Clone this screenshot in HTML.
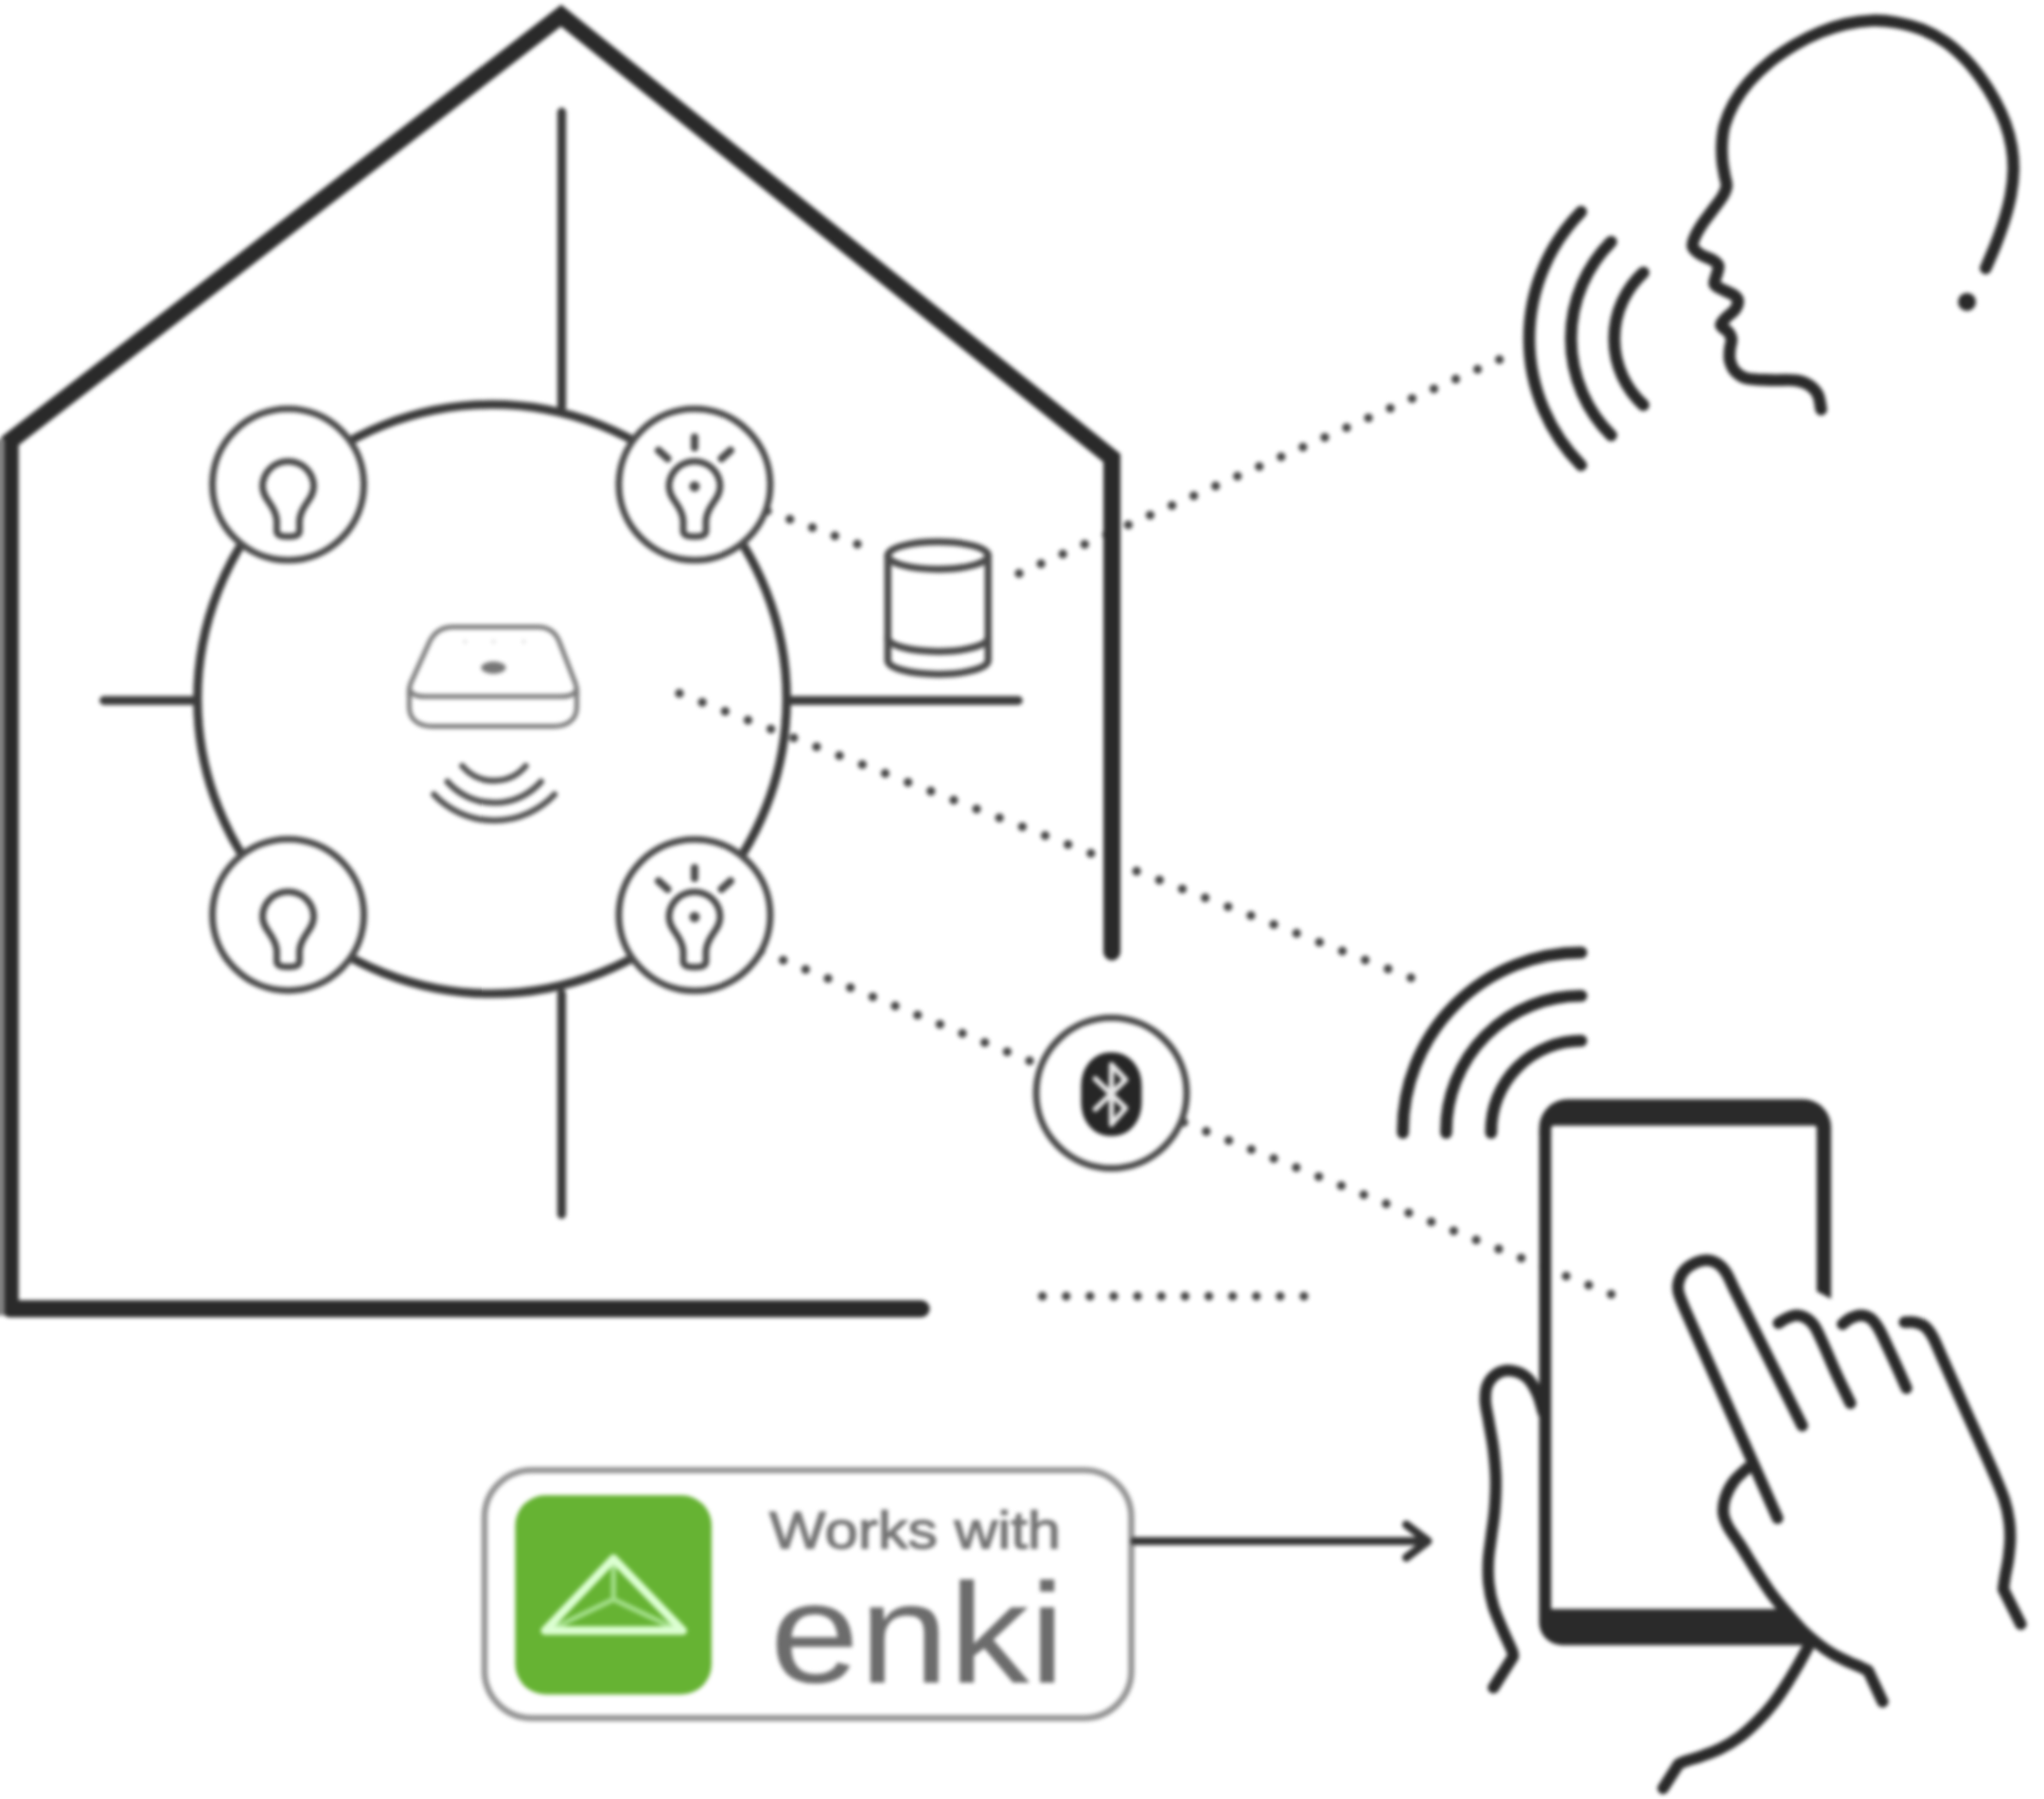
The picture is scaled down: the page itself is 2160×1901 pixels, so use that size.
<!DOCTYPE html>
<html lang="en">
<head>
<meta charset="utf-8">
<title>Works with enki</title>
<style>
  html, body { margin: 0; padding: 0; background: #ffffff; }
  body { width: 2160px; height: 1901px; overflow: hidden; }
  #stage { position: relative; width: 2160px; height: 1901px; overflow: hidden; background: #ffffff; }
  svg { display: block; position: absolute; left: -24px; top: -24px; }
  .thick { fill: none; stroke: #2a2a2a; stroke-width: 18; stroke-linecap: round; stroke-linejoin: miter; }
  .thin { fill: none; stroke: #3c3c3c; stroke-width: 9.4; stroke-linecap: round; }
  .ring { fill: #ffffff; stroke: #4c4c4c; stroke-width: 7; }
  .ico { fill: none; stroke: #4c4c4c; stroke-width: 7; stroke-linecap: round; stroke-linejoin: round; }
  .dots { fill: none; stroke: #474747; stroke-width: 9.4; stroke-linecap: round; }
  .ink { fill: none; stroke: #2a2a2a; stroke-width: 12.6; stroke-linecap: round; stroke-linejoin: round; }
  .hand { fill: none; stroke: #2a2a2a; stroke-width: 12.2; stroke-linecap: round; stroke-linejoin: round; }
  .hub { fill: none; stroke: #7d7d7d; stroke-width: 5; stroke-linecap: round; stroke-linejoin: round; }
  .wave { fill: none; stroke: #555555; stroke-width: 6.5; stroke-linecap: round; }
  text { font-family: "Liberation Sans", sans-serif; }
</style>
</head>
<body>
<div id="stage">
<svg width="2208" height="1949" viewBox="-24 -24 2208 1949">
  <defs>
    <filter id="soft" x="-24" y="-24" width="2208" height="1949" filterUnits="userSpaceOnUse" color-interpolation-filters="sRGB"><feGaussianBlur stdDeviation="2"/></filter>
    <g id="bulb">
      <path class="ico" d="M -12,49 Q -12,55 0,55 Q 12,55 12,49 L 12,38 C 13,22 27,16 27,2 A 27,26.5 0 1 0 -27,2 C -27,16 -13,22 -12,38 Z"/>
    </g>
    <g id="bulbon">
      <use href="#bulb"/>
      <circle cx="0" cy="2" r="5.5" fill="#4c4c4c"/>
      <path class="ico" style="stroke-width:8" d="M 0,-50 L 0,-39 M -38,-36 L -28.5,-27.5 M 38,-36 L 28.5,-27.5"/>
    </g>
  </defs>

  <g id="art" filter="url(#soft)">
  <rect x="-24" y="-24" width="2208" height="1949" fill="#ffffff"/>
  <!-- ===== Dotted links (drawn first so walls cover them) ===== -->
  <g id="links">
    <path class="dots" stroke-dasharray="0 25.311" d="M 811.0,540.0 L 906.5,575.2"/>
    <path class="dots" stroke-dasharray="0 25.252" d="M 1077.0,606.0 L 1585.0,379.8"/>
    <path class="dots" stroke-dasharray="0 25.916" d="M 718.0,732.8 L 1491.5,1033.4"/>
    <path class="dots" stroke-dasharray="0 25.565" d="M 804.0,1005.0 L 1088.5,1121.2"/>
    <path class="dots" stroke-dasharray="0 25.618" d="M 1251.0,1186.0 L 1703.1,1367.8"/>
    <path class="dots" stroke-dasharray="0 25.118" d="M 1101.6,1369.8 L 1378.4,1369.8"/>
  </g>

  <!-- ===== House ===== -->
  <g id="house">
    <path class="thick" d="M 10.7,1383 L 10.7,466 L 593,16.5 L 1175,484 L 1175,1006"/>
    <path class="thick" d="M 10.7,1383 L 973.5,1383"/>
    <!-- interior partitions -->
    <path class="thin" d="M 593.6,118.5 L 593.6,430 M 593.5,1050 L 593.5,1283.3 M 109.8,740.2 L 208,740.2 M 833,740.2 L 1076,740.2"/>
    <!-- left image edge: wall is cropped by the frame and fades to grey -->
    <rect x="-24" y="464" width="28.8" height="926" fill="#828282"/>
    <!-- hub zone -->
    <circle cx="520" cy="738.7" r="311.3" fill="none" stroke="#3c3c3c" stroke-width="9.2"/>
  </g>

  

  <!-- ===== Bulbs ===== -->
  <g id="bulbs">
    <circle class="ring" cx="304.5" cy="512" r="80"/>
    <use href="#bulb" x="304.5" y="512"/>
    <circle class="ring" cx="734" cy="512" r="80"/>
    <use href="#bulbon" x="734" y="512"/>
    <circle class="ring" cx="304.5" cy="966.7" r="80"/>
    <use href="#bulb" x="304.5" y="966.7"/>
    <circle class="ring" cx="734" cy="967" r="80"/>
    <use href="#bulbon" x="734" y="967"/>
  </g>

  <!-- ===== Hub ===== -->
  <g id="hubdev">
    <path class="hub" d="M 479,662.5 L 568,662.5 C 580,662.5 587,668 591,678 L 608,722 C 610,728 610,732 609.5,736 L 609.5,747 C 609.5,760 600,767.5 585,767.5 L 457,767.5 C 442,767.5 432.5,760 432.5,747 L 432.5,736 C 432,732 432,728 434,722 L 454,678 C 459,668 467,662.5 479,662.5 Z"/>
    <path class="hub" d="M 432.5,728 C 434,733 440,736 449,736 L 593,736 C 602,736 608,733 609.5,728"/>
    <ellipse cx="521.5" cy="705.5" rx="13" ry="6.5" fill="#777777"/>
    <circle cx="491.5" cy="678" r="2" fill="#dddddd"/><circle cx="521.5" cy="678" r="2" fill="#dddddd"/><circle cx="553.5" cy="678" r="2" fill="#dddddd"/>
    <path class="wave" d="M 488.5,809.5 A 44,44 0 0 0 555.5,809.5"/>
    <path class="wave" d="M 472.8,826 A 66,66 0 0 0 571.8,826"/>
    <path class="wave" d="M 458.5,839.5 A 87.5,87.5 0 0 0 586,839.5"/>
  </g>

  <!-- ===== Speaker ===== -->
  <g id="speaker" fill="none" stroke="#4c4c4c" stroke-width="7.5" stroke-linecap="round">
    <ellipse cx="991.2" cy="587" rx="53" ry="14.5"/>
    <path d="M 938.2,587 L 938.2,698 A 53,14.5 0 0 0 1044.2,698 L 1044.2,587"/>
    <path d="M 938.2,674 A 53,14.5 0 0 0 1044.2,674"/>
  </g>

  <!-- ===== Bluetooth ===== -->
  <g id="bt">
    <circle class="ring" cx="1174.5" cy="1155" r="79.5"/>
    <rect x="1142.5" y="1112" width="64" height="88.5" rx="30" ry="35" fill="#262626"/>
    <path d="M -17,-16 L 15,15 L 0,32 L 0,-31 L 15,-15 L -17,16" transform="translate(1174.5,1156)" fill="none" stroke="#e6e6e6" stroke-width="5.5" stroke-linejoin="round" stroke-linecap="round"/>
  </g>

  <!-- ===== Voice ===== -->
  <g id="voice">
    <path class="ink" d="M 1670.8,223.8 A 191,191 0 0 0 1670.8,491.6"/>
    <path class="ink" d="M 1702.6,255.5 A 144.5,144.5 0 0 0 1702.6,460"/>
    <path class="ink" d="M 1736.7,288 A 95,95 0 0 0 1736.7,428"/>
    <path id="head" class="ink" d="M 2098.4,283.4 C 2100.1,279.3 2105.5,267.4 2108.8,258.9 C 2112.1,250.4 2115.5,241.2 2118.2,232.4 C 2120.9,223.6 2123.3,214.8 2124.9,206.0 C 2126.5,197.2 2127.5,188.0 2127.7,179.5 C 2127.8,171.0 2127.2,163.2 2125.8,155.0 C 2124.4,146.8 2122.2,138.6 2119.2,130.4 C 2116.2,122.2 2112.2,113.7 2107.9,105.8 C 2103.7,97.9 2098.9,90.3 2093.7,83.1 C 2088.5,75.9 2083.0,68.8 2076.7,62.4 C 2070.4,56.0 2063.5,49.6 2055.9,44.4 C 2048.3,39.2 2040.1,34.7 2031.3,31.2 C 2022.5,27.7 2011.8,25.2 2003.0,23.6 C 1994.2,22.0 1987.2,21.4 1978.4,21.7 C 1969.6,22.0 1959.2,23.4 1950.1,25.5 C 1941.0,27.6 1932.4,30.4 1923.6,34.0 C 1914.8,37.6 1906.0,42.0 1897.2,47.2 C 1888.4,52.4 1878.9,58.6 1870.7,65.2 C 1862.5,71.8 1854.5,79.5 1848.0,86.9 C 1841.5,94.3 1836.2,102.0 1832.0,109.6 C 1827.8,117.2 1824.5,125.4 1822.5,132.3 C 1820.5,139.2 1820.1,144.9 1819.7,151.2 C 1819.3,157.5 1819.6,164.4 1820.1,170.1 C 1820.6,175.8 1821.8,180.8 1822.5,185.2 C 1823.2,189.6 1824.9,192.8 1824.6,196.5 C 1824.2,200.2 1822.8,203.2 1820.4,207.4 C 1818.0,211.6 1813.5,217.0 1810.0,221.8 C 1806.5,226.6 1802.3,231.5 1799.2,236.2 C 1796.1,240.9 1793.1,245.7 1791.4,249.8 C 1789.7,253.9 1787.9,257.6 1788.8,260.8 C 1789.7,264.0 1793.5,266.5 1797.0,268.9 C 1800.5,271.2 1806.8,272.9 1810.0,274.9 C 1813.2,276.9 1815.3,278.4 1816.0,280.9 C 1816.7,283.3 1815.0,286.4 1814.3,289.6 C 1813.6,292.8 1811.0,297.3 1811.7,299.9 C 1812.4,302.5 1815.1,303.1 1818.6,305.1 C 1822.0,307.1 1829.4,309.9 1832.4,312.0 C 1835.4,314.1 1836.6,315.4 1836.7,318.0 C 1836.8,320.6 1835.4,324.5 1833.2,327.5 C 1831.0,330.5 1826.1,333.4 1823.7,336.1 C 1821.3,338.8 1818.2,341.4 1818.6,343.8 C 1819.0,346.2 1824.4,348.2 1826.3,350.7 C 1828.2,353.1 1829.5,355.5 1829.8,358.5 C 1830.1,361.5 1828.4,365.1 1828.1,368.8 C 1827.8,372.5 1827.1,376.9 1828.1,380.9 C 1829.1,384.9 1831.1,389.8 1834.1,392.9 C 1837.1,396.0 1839.8,398.4 1846.1,399.8 C 1852.4,401.2 1863.4,401.2 1872.0,401.6 C 1880.6,402.0 1891.2,401.0 1897.8,401.9 C 1904.4,402.8 1907.7,404.2 1911.6,406.7 C 1915.5,409.2 1918.9,412.8 1921.1,417.1 C 1923.2,421.4 1923.9,430.0 1924.5,432.6"/>
    <circle cx="2078.6" cy="319" r="9.5" fill="#2a2a2a"/>
  </g>

  <!-- ===== Phone + hands ===== -->
  <g id="phone">
    <!-- wifi waves above phone -->
    <path class="ink" d="M 1482.5,1197 L 1482.5,1195 A 188.5,188.5 0 0 1 1671,1006.5"/>
    <path class="ink" d="M 1528.3,1197 L 1528.3,1195 A 142.7,142.7 0 0 1 1671,1052.3"/>
    <path class="ink" d="M 1575.8,1197 L 1575.8,1195 A 95.2,95.2 0 0 1 1671,1099.8"/>
    <!-- phone body -->
    <path d="M 1626.5,1198 L 1626.5,1192 A 30.5,30.5 0 0 1 1657,1161.5 L 1905,1161.5 A 30,30 0 0 1 1935,1191.5 L 1935,1198 L 1919.8,1198 L 1919.8,1192.5 Q 1919.8,1189.5 1916.8,1189.5 L 1642.2,1189.5 Q 1639.2,1189.5 1639.2,1192.5 L 1639.2,1198 Z" fill="#2a2a2a"/>
    <path d="M 1626.5,1196 L 1639.2,1196 L 1639.2,1700.3 L 1879,1700.3 L 1913,1738.4 L 1650.5,1738.4 A 24,24 0 0 1 1626.5,1714.4 Z" fill="#2a2a2a"/>
    <path d="M 1919.8,1196 L 1935,1196 L 1935,1372.4 L 1919.8,1364.6 Z" fill="#2a2a2a"/>
    <!-- pointing hand -->
    <path class="hand" d="M 1878.4,1604.2 L 1780.1,1382.4 C 1777.6,1376.2 1774.8,1370.1 1773.8,1365.5 C 1772.8,1360.9 1772.8,1358.8 1773.8,1354.9 C 1774.8,1351.0 1776.9,1345.8 1780.1,1342.3 C 1783.3,1338.8 1788.6,1335.6 1792.8,1333.8 C 1797.0,1332.0 1801.6,1331.3 1805.5,1331.7 C 1809.4,1332.1 1812.9,1333.6 1816.1,1335.9 C 1819.3,1338.2 1821.8,1341.1 1824.5,1345.4 C 1827.2,1349.8 1829.7,1355.9 1832.5,1362.0 L 1904.5,1506.5"/>
    <path class="hand" d="M 1879.4,1398.2 C 1880.8,1397.3 1884.7,1394.4 1887.9,1393.0 C 1891.1,1391.6 1895.0,1389.8 1898.5,1389.8 C 1902.0,1389.8 1905.8,1391.1 1909.0,1393.0 C 1912.2,1394.9 1914.7,1397.2 1917.5,1401.4 C 1920.3,1405.6 1922.0,1409.8 1925.9,1418.3 C 1929.8,1426.8 1935.8,1441.3 1940.7,1452.1 C 1945.6,1462.8 1953.0,1477.7 1955.5,1482.8"/>
    <path class="hand" d="M 1947.1,1399.3 C 1948.5,1398.2 1952.3,1394.6 1955.5,1393.0 C 1958.7,1391.4 1962.6,1389.8 1966.1,1389.8 C 1969.6,1389.8 1973.4,1390.7 1976.6,1393.0 C 1979.8,1395.3 1982.3,1398.9 1985.1,1403.5 C 1987.9,1408.1 1990.0,1413.0 1993.5,1420.4 C 1997.0,1427.8 2002.7,1440.2 2006.2,1447.9 C 2009.7,1455.7 2013.3,1463.7 2014.7,1466.9"/>
    <path class="hand" d="M 2012.6,1397.2 C 2014.3,1397.2 2019.6,1396.5 2023.1,1397.2 C 2026.6,1397.9 2030.5,1398.9 2033.7,1401.4 C 2036.9,1403.9 2038.9,1406.4 2042.1,1412.0 C 2045.3,1417.6 2048.1,1425.0 2052.7,1435.2 C 2057.3,1445.4 2063.6,1459.9 2069.6,1473.3 C 2075.6,1486.7 2082.6,1502.1 2088.6,1515.5 C 2094.6,1528.9 2100.6,1542.0 2105.5,1553.5 C 2110.4,1565.0 2115.2,1575.7 2118.1,1584.7 C 2121.0,1593.7 2122.2,1600.1 2123.2,1607.3 C 2124.2,1614.5 2124.4,1620.9 2124.2,1627.8 C 2124.0,1634.7 2123.0,1642.2 2122.2,1648.4 C 2121.3,1654.6 2120.0,1659.7 2119.1,1664.8 C 2118.2,1669.9 2117.3,1676.8 2117.0,1679.2 L 2135.5,1716.2"/>
    <path class="hand" d="M 1847.0,1551.0 C 1844.6,1553.3 1836.5,1559.7 1832.5,1565.0 C 1828.5,1570.3 1825.1,1576.9 1823.2,1582.6 C 1821.3,1588.3 1820.7,1593.9 1821.2,1599.0 C 1821.7,1604.1 1823.4,1607.9 1826.3,1613.4 C 1829.2,1618.9 1833.8,1624.4 1838.6,1631.9 C 1843.4,1639.4 1849.6,1650.0 1855.1,1658.6 C 1860.6,1667.2 1866.0,1675.8 1871.5,1683.3 C 1877.0,1690.8 1882.4,1697.3 1887.9,1703.8 C 1893.4,1710.3 1898.9,1716.8 1904.4,1722.3 C 1909.9,1727.8 1915.3,1732.4 1920.8,1736.7 C 1926.3,1741.0 1931.7,1744.8 1937.2,1748.0 C 1942.7,1751.2 1948.9,1754.0 1953.7,1756.2 C 1958.5,1758.4 1962.6,1759.9 1966.0,1761.4 C 1969.4,1763.0 1972.8,1764.8 1974.2,1765.5 L 1989.6,1798.3"/>
    <!-- holding hand -->
    <path class="hand" d="M 1910.5,1740.8 C 1908.8,1743.9 1904.1,1752.8 1900.3,1759.3 C 1896.5,1765.8 1892.4,1772.9 1887.9,1779.8 C 1883.5,1786.7 1878.7,1793.9 1873.6,1800.4 C 1868.5,1806.9 1862.9,1813.1 1857.1,1818.9 C 1851.3,1824.7 1845.1,1830.5 1838.6,1835.3 C 1832.1,1840.1 1824.9,1844.3 1818.1,1847.7 C 1811.2,1851.1 1803.7,1853.7 1797.5,1855.9 C 1791.3,1858.1 1785.0,1859.6 1781.1,1861.0 C 1777.2,1862.4 1775.1,1863.6 1773.9,1864.1 L 1757.5,1889.8"/>
    <path class="hand" d="M 1630.8,1492.5 C 1629.8,1489.2 1627.5,1479.0 1624.7,1472.9 C 1621.9,1466.8 1618.2,1459.9 1613.7,1455.8 C 1609.2,1451.7 1602.9,1449.3 1597.8,1448.5 C 1592.7,1447.7 1587.4,1448.5 1583.1,1450.9 C 1578.8,1453.3 1574.3,1458.2 1572.1,1463.1 C 1569.9,1468.0 1569.5,1473.7 1569.7,1480.2 C 1569.9,1486.7 1571.9,1493.6 1573.3,1502.2 C 1574.7,1510.8 1577.0,1521.4 1578.2,1531.6 C 1579.4,1541.8 1580.5,1552.8 1580.7,1563.4 C 1580.9,1574.0 1580.3,1585.0 1579.5,1595.2 C 1578.7,1605.4 1576.9,1615.5 1575.8,1624.5 C 1574.7,1633.5 1573.3,1640.8 1572.9,1649.0 C 1572.5,1657.2 1572.4,1665.3 1573.3,1673.4 C 1574.2,1681.5 1575.8,1689.7 1578.2,1697.8 C 1580.7,1705.9 1584.7,1714.5 1588.0,1722.3 C 1591.3,1730.0 1596.0,1739.6 1597.8,1744.3 C 1599.6,1749.0 1598.8,1749.4 1599.0,1750.4 L 1578.2,1783.4"/>
  </g>

  <!-- ===== Badge ===== -->
  <g id="badge">
    <rect x="512" y="1553.5" width="683.5" height="262" rx="50" ry="50" fill="#ffffff" stroke="#949494" stroke-width="6.5"/>
    <rect x="544.5" y="1580" width="207.5" height="210.5" rx="32" ry="32" fill="#66b333"/>
    <path d="M 648.3,1690 L 648.3,1650 M 648.3,1690 L 590,1718 M 648.3,1690 L 707,1718" fill="none" stroke="#a2de88" stroke-width="5.5" stroke-linecap="round"/>
    <path d="M 648.3,1647 L 576,1723 L 721.5,1723 Z" fill="none" stroke="#dcffd2" stroke-width="9" stroke-linejoin="round"/>
    <text x="813" y="1635.5" font-size="56" fill="#747474" stroke="#747474" stroke-width="1.3" textLength="308" lengthAdjust="spacingAndGlyphs">Works with</text>
    <text x="813.5" y="1777.5" font-size="150" fill="#6c6c6c" textLength="312" lengthAdjust="spacingAndGlyphs">enki</text>
    <path d="M 1199,1628.5 L 1508,1628.5 M 1486,1611 L 1509,1628.5 L 1486,1646" fill="none" stroke="#333333" stroke-width="8.5" stroke-linecap="round" stroke-linejoin="round"/>
  </g>
  </g>
</svg>
</div>
</body>
</html>
